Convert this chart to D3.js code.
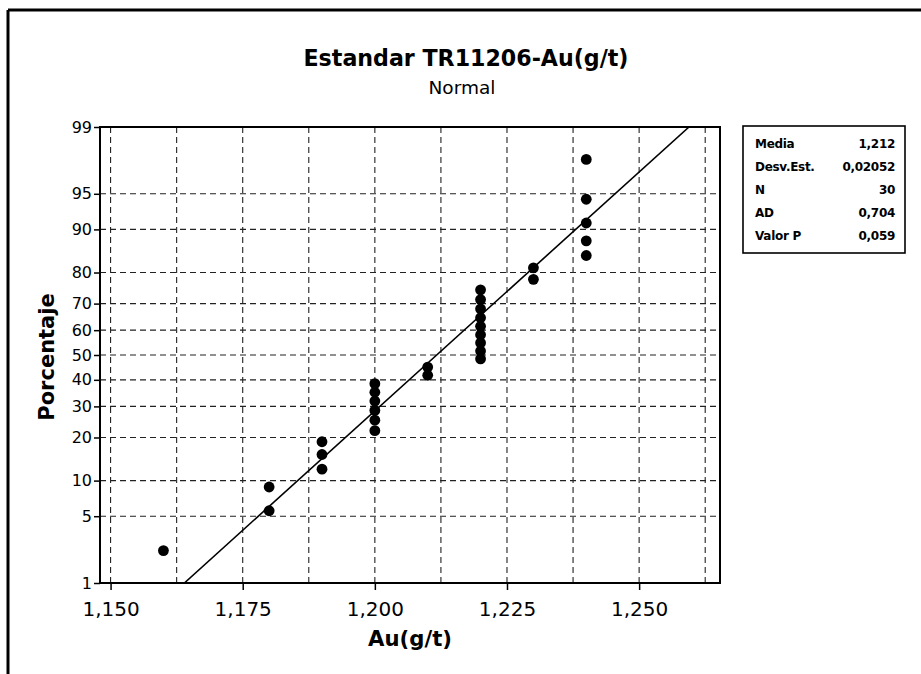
<!DOCTYPE html>
<html>
<head>
<meta charset="utf-8">
<script src="https://cdn.jsdelivr.net/npm/d3@7"></script>
<style>
  html, body { margin: 0; padding: 0; background: #fff; }
  svg { display: block; }
  text { font-family: "DejaVu Sans", sans-serif; fill: #000; }
</style>
</head>
<body>
<svg id="chart" width="921" height="674"></svg>
<script>
// ---------- data ----------
const auValues = [1.16, 1.18, 1.18, 1.19, 1.19, 1.19,
  1.20, 1.20, 1.20, 1.20, 1.20, 1.20, 1.21, 1.21,
  1.22, 1.22, 1.22, 1.22, 1.22, 1.22, 1.22, 1.22, 1.22,
  1.23, 1.23, 1.24, 1.24, 1.24, 1.24, 1.24];
const percentValues = [2.3, 5.6, 8.9, 12.2, 15.5, 18.8,
  22.0, 25.3, 28.6, 31.9, 35.2, 38.5, 41.8, 45.1,
  48.4, 51.6, 54.9, 58.2, 61.5, 64.8, 68.1, 71.4, 74.7,
  78.0, 81.3, 84.5, 87.8, 91.1, 94.4, 97.7];
const fitMean = [1.2117];
const fitSd = [0.02052];
const xTicks = [1.150, 1.175, 1.200, 1.225, 1.250];
const xGrid = [1.150, 1.1625, 1.175, 1.1875, 1.200, 1.2125, 1.225, 1.2375, 1.250, 1.2625];
const yTicks = [1, 5, 10, 20, 30, 40, 50, 60, 70, 80, 90, 95, 99];
const statLabels = ["Media", "Desv.Est.", "N", "AD", "Valor P"];
const statValues = ["1,212", "0,02052", "30", "0,704", "0,059"];

// ---------- helpers ----------
function normInv(p) {
  const a = [-3.969683028665376e+01, 2.209460984245205e+02, -2.759285104469687e+02, 1.383577518672690e+02, -3.066479806614716e+01, 2.506628277459239e+00];
  const b = [-5.447609879822406e+01, 1.615858368580409e+02, -1.556989798598866e+02, 6.680131188771972e+01, -1.328068155288572e+01];
  const c = [-7.784894002430293e-03, -3.223964580411365e-01, -2.400758277161838e+00, -2.549732539343734e+00, 4.374664141464968e+00, 2.938163982698783e+00];
  const d = [7.784695709041462e-03, 3.224671290700398e-01, 2.445134137142996e+00, 3.754408661907416e+00];
  const pl = 0.02425, ph = 1 - pl;
  let q, r;
  if (p < pl) { q = Math.sqrt(-2 * Math.log(p));
    return (((((c[0]*q+c[1])*q+c[2])*q+c[3])*q+c[4])*q+c[5]) / ((((d[0]*q+d[1])*q+d[2])*q+d[3])*q+1); }
  if (p <= ph) { q = p - 0.5; r = q*q;
    return (((((a[0]*r+a[1])*r+a[2])*r+a[3])*r+a[4])*r+a[5])*q / (((((b[0]*r+b[1])*r+b[2])*r+b[3])*r+b[4])*r+1); }
  q = Math.sqrt(-2 * Math.log(1 - p));
  return -(((((c[0]*q+c[1])*q+c[2])*q+c[3])*q+c[4])*q+c[5]) / ((((d[0]*q+d[1])*q+d[2])*q+d[3])*q+1);
}
const locale = d3.formatLocale({decimal: ",", thousands: ".", grouping: [3], currency: ["", ""]});
const fmtX = locale.format(".3f");

// ---------- layout ----------
const svg = d3.select("#chart");
const L = 100, R = 720, T = 127, B = 583;
const zMax = normInv(0.99);
const x = d3.scaleLinear().domain([1.148, 1.2653]).range([L, R]);
const y = d3.scaleLinear().domain([-zMax, zMax]).range([B, T]);
const yp = p => y(normInv(p / 100));

// outer frame (top + left)
svg.append("line").attr("x1", 8).attr("x2", 921).attr("y1", 10).attr("y2", 10)
  .attr("stroke", "#000").attr("stroke-width", 3);
svg.append("line").attr("x1", 8).attr("x2", 8).attr("y1", 10).attr("y2", 674)
  .attr("stroke", "#000").attr("stroke-width", 3);

// titles
svg.append("text").attr("x", 466).attr("y", 66).attr("text-anchor", "middle")
  .attr("font-size", 23).attr("font-weight", "bold")
  .attr("textLength", 325).attr("lengthAdjust", "spacingAndGlyphs")
  .text("Estandar TR11206-Au(g/t)");
svg.append("text").attr("x", 462).attr("y", 94).attr("text-anchor", "middle")
  .attr("font-size", 18.5).text("Normal");

// gridlines
const grid = svg.append("g").attr("stroke", "#222").attr("stroke-width", 1.1)
  .attr("stroke-dasharray", "6,4");
grid.selectAll("line.v").data(xGrid).join("line").attr("class", "v")
  .attr("x1", d => x(d)).attr("x2", d => x(d)).attr("y1", T).attr("y2", B);
grid.selectAll("line.h").data(yTicks.filter(d => d > 1 && d < 99)).join("line").attr("class", "h")
  .attr("x1", L).attr("x2", R).attr("y1", d => yp(d)).attr("y2", d => yp(d));

// clip
svg.append("clipPath").attr("id", "clip").append("rect")
  .attr("x", L).attr("y", T).attr("width", R - L).attr("height", B - T);

// fitted line
const zs = [-zMax, zMax];
svg.append("g").attr("clip-path", "url(#clip)").append("line")
  .attr("x1", x(fitMean[0] + fitSd[0] * zs[0])).attr("y1", y(zs[0]))
  .attr("x2", x(fitMean[0] + fitSd[0] * zs[1])).attr("y2", y(zs[1]))
  .attr("stroke", "#000").attr("stroke-width", 1.6);

// points
svg.append("g").selectAll("circle").data(auValues).join("circle")
  .attr("cx", d => x(d)).attr("cy", (d, i) => yp(percentValues[i]))
  .attr("r", 5.4).attr("fill", "#000");

// plot frame
svg.append("rect").attr("x", L).attr("y", T).attr("width", R - L).attr("height", B - T)
  .attr("fill", "none").attr("stroke", "#000").attr("stroke-width", 2);

// x axis
const xAxis = d3.axisBottom(x).tickValues(xTicks).tickFormat(fmtX).tickSize(7).tickPadding(12);
const gx = svg.append("g").attr("transform", `translate(0,${B})`).call(xAxis);
gx.select(".domain").remove();
gx.selectAll(".tick line").attr("stroke", "#000").attr("stroke-width", 1.5);
gx.selectAll(".tick text").attr("font-size", 20).attr("font-family", "DejaVu Sans, sans-serif").attr("fill", "#000");

// y axis
const yAxis = d3.axisLeft(y).tickValues(yTicks.map(p => normInv(p / 100)))
  .tickFormat((d, i) => yTicks[i]).tickSize(6).tickPadding(2);
const gy = svg.append("g").attr("transform", `translate(${L},0)`).call(yAxis);
gy.select(".domain").remove();
gy.selectAll(".tick line").attr("stroke", "#000").attr("stroke-width", 1.5);
gy.selectAll(".tick text").attr("font-size", 16).attr("font-family", "DejaVu Sans, sans-serif").attr("fill", "#000");

// axis titles
svg.append("text").attr("x", 410).attr("y", 646).attr("text-anchor", "middle")
  .attr("font-size", 22).attr("font-weight", "bold")
  .attr("textLength", 84).attr("lengthAdjust", "spacingAndGlyphs").text("Au(g/t)");
svg.append("text").attr("transform", "translate(54,357) rotate(-90)").attr("text-anchor", "middle")
  .attr("font-size", 21).attr("font-weight", "bold").text("Porcentaje");

// stats box
const box = svg.append("g");
box.append("rect").attr("x", 743).attr("y", 126).attr("width", 162).attr("height", 127)
  .attr("fill", "#fff").attr("stroke", "#000").attr("stroke-width", 1.6);
const rowY = d3.scalePoint().domain(statLabels).range([148, 240]);
box.selectAll("text.l").data(statLabels).join("text").attr("class", "l")
  .attr("x", 755).attr("y", d => rowY(d)).attr("font-size", 12).attr("font-weight", "bold")
  .attr("letter-spacing", -0.3).text(d => d);
box.selectAll("text.v").data(statValues).join("text").attr("class", "v")
  .attr("x", 895).attr("y", (d, i) => rowY(statLabels[i])).attr("text-anchor", "end")
  .attr("font-size", 12).attr("font-weight", "bold").attr("letter-spacing", -0.3).text(d => d);
</script>
</body>
</html>
